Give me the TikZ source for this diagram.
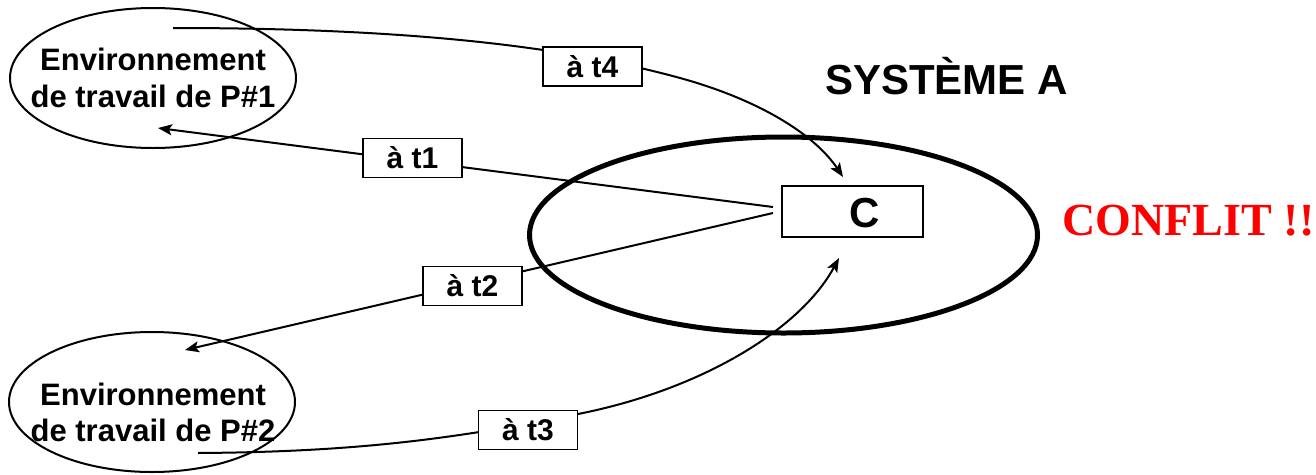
\documentclass[tikz,border=0pt]{standalone}
\usepackage{fontspec}
\setmainfont{Liberation Sans}
\newfontfamily\conflitfont{Liberation Serif}
\usetikzlibrary{shapes.geometric,arrows.meta}

\tikzset{
  envell/.style={draw, ellipse, line width=2pt, inner sep=0pt,
    minimum width=286pt, minimum height=140pt},
  envtext/.style={align=center, inner sep=0pt,
    font=\fontsize{31}{36.5}\selectfont\bfseries},
  sysell/.style={draw, ellipse, line width=5pt, inner sep=0pt,
    minimum width=508pt, minimum height=196pt},
  cbox/.style={draw, line width=1.3pt, inner sep=0pt,
    minimum width=141pt, minimum height=51pt},
  timelab/.style={draw, fill=white, line width=1.2pt, inner sep=0pt,
    minimum width=99pt, minimum height=39pt,
    font=\fontsize{30}{34}\selectfont\bfseries},
  conn/.style={line width=2pt, -{Stealth[length=14pt,width=11pt,inset=3pt]}},
}

\begin{document}
\begin{tikzpicture}[x=1pt, y=-1pt]
  \useasboundingbox[fill=white] (0,0) rectangle (1316,474);

  % work environments of the two processes
  \node[envell] (env1) at (153,78) {};
  \node[envtext] (env1txt) at (153,77.8) {Environnement\\de travail de P\#1};
  \node[envell] (env2) at (152,402) {};
  \node[envtext] (env2txt) at (153,412.5) {Environnement\\de travail de P\#2};

  % system A holding the shared element C
  \node[sysell] (sys) at (783.5,235) {};
  \node[cbox] (cb) at (852.5,211.5) {};
  \node[font=\fontsize{42}{48}\selectfont\bfseries] (ctxt) at (864.7,212.8) {C};

  \node[anchor=base, font=\fontsize{42}{48}\selectfont\bfseries] (systitle)
    at (946.5,94) {SYSTÈME A};
  \node[anchor=base, text={rgb,255:red,255;green,0;blue,0},
    font=\fontsize{46}{52}\conflitfont\bfseries] (conflit)
    at (1188.5,235.5) {CONFLIT !!};

  % connector end points
  \coordinate (t1from) at (773,207);
  \coordinate (t1to)   at (158,128);
  \coordinate (t2from) at (773,213);
  \coordinate (t2to)   at (185,350);
  \coordinate (t3from) at (198,453);
  \coordinate (t3mid)  at (578,414);
  \coordinate (t3to)   at (839,258);
  \coordinate (t4from) at (173,28);
  \coordinate (t4mid)  at (680,78);
  \coordinate (t4to)   at (843,177);

  % copies handed out and returned
  \draw[conn] (t1from) -- (t1to);
  \draw[conn] (t2from) -- (t2to);
  \draw[conn] (t3from) .. controls (350,452) and (450,440) .. (t3mid)
                       .. controls (700,390) and (800,330) .. (t3to);
  \draw[conn] (t4from) .. controls (400,28) and (560,45) .. (t4mid)
                       .. controls (760,100) and (815,135) .. (t4to);

  % time labels
  \node[timelab] (lab1) at (412.5,158) {à t1};
  \node[timelab] (lab2) at (472.5,286) {à t2};
  \node[timelab] (lab3) at (528,430)   {à t3};
  \node[timelab] (lab4) at (592.5,66.5) {à t4};
\end{tikzpicture}
\end{document}
